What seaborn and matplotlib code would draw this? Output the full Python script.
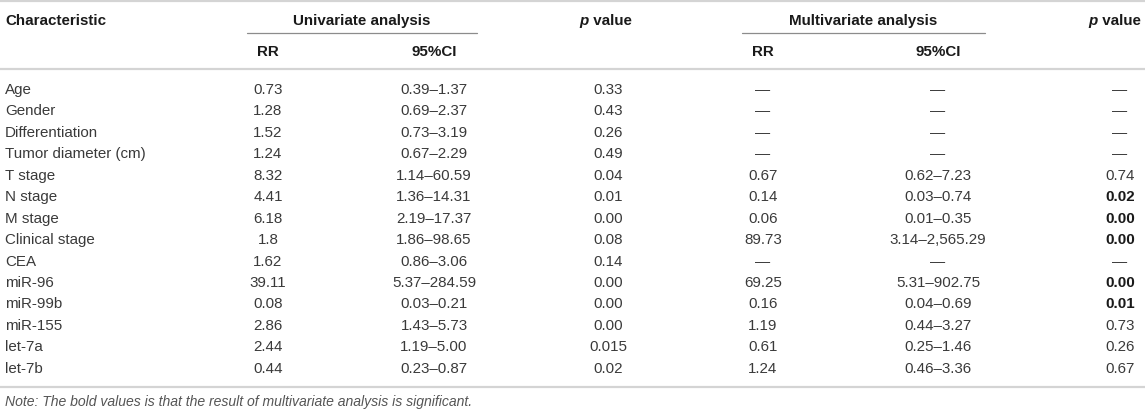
import matplotlib
matplotlib.use("Agg")
import matplotlib.pyplot as plt
import seaborn as sns
import pandas as pd

# table content
characteristics = ["Age", "Gender", "Differentiation", "Tumor diameter (cm)", "T stage",
                   "N stage", "M stage", "Clinical stage", "CEA", "miR-96", "miR-99b",
                   "miR-155", "let-7a", "let-7b"]
uni_rr = ["0.73", "1.28", "1.52", "1.24", "8.32", "4.41", "6.18", "1.8", "1.62",
          "39.11", "0.08", "2.86", "2.44", "0.44"]
uni_ci = ["0.39–1.37", "0.69–2.37", "0.73–3.19", "0.67–2.29", "1.14–60.59", "1.36–14.31",
          "2.19–17.37", "1.86–98.65", "0.86–3.06", "5.37–284.59", "0.03–0.21",
          "1.43–5.73", "1.19–5.00", "0.23–0.87"]
uni_p = ["0.33", "0.43", "0.26", "0.49", "0.04", "0.01", "0.00", "0.08", "0.14",
         "0.00", "0.00", "0.00", "0.015", "0.02"]
multi_rr = ["—", "—", "—", "—", "0.67", "0.14", "0.06", "89.73", "—", "69.25",
            "0.16", "1.19", "0.61", "1.24"]
multi_ci = ["—", "—", "—", "—", "0.62–7.23", "0.03–0.74", "0.01–0.35", "3.14–2,565.29",
            "—", "5.31–902.75", "0.04–0.69", "0.44–3.27", "0.25–1.46", "0.46–3.36"]
multi_p = ["—", "—", "—", "—", "0.74", "0.02", "0.00", "0.00", "—", "0.00",
           "0.01", "0.73", "0.26", "0.67"]
significant = ["N stage", "M stage", "Clinical stage", "miR-96", "miR-99b"]
note = "Note: The bold values is that the result of multivariate analysis is significant."

df = pd.DataFrame({"Characteristic": characteristics, "RR_u": uni_rr, "CI_u": uni_ci,
                   "p_u": uni_p, "RR_m": multi_rr, "CI_m": multi_ci, "p_m": multi_p})

sns.set_style("white")
plt.rcParams["font.family"] = ["Liberation Sans", "DejaVu Sans"]

W, H = 1145, 413
fig = plt.figure(figsize=(W / 100, H / 100), dpi=100)
ax = fig.add_axes([0, 0, 1, 1])
ax.set_xlim(0, W)
ax.set_ylim(H, 0)
ax.axis("off")

fs = 10.9
txt = "#3a3a3a"
head = "#1a1a1a"
col_x = {"RR_u": 268, "CI_u": 434, "p_u": 608, "RR_m": 763, "CI_m": 938, "p_m": 1120}

# rules
for y in (1, 69, 387):
    ax.plot([0, W], [y, y], color="#d4d4d4", lw=1.6, solid_capstyle="butt")
ax.plot([247, 477], [33, 33], color="#8c8c8c", lw=0.9)
ax.plot([742, 985], [33, 33], color="#8c8c8c", lw=0.9)

# header
ax.text(5, 21, "Characteristic", fontsize=fs, fontweight="bold", color=head, va="center")
ax.text(362, 21, "Univariate analysis", fontsize=fs, fontweight="bold", color=head,
        ha="center", va="center")
ax.text(863, 21, "Multivariate analysis", fontsize=fs, fontweight="bold", color=head,
        ha="center", va="center")
for x in (589, 1098):
    ax.text(x, 21, "p", fontsize=fs, fontweight="bold", fontstyle="italic", color=head,
            ha="right", va="center")
    ax.text(x, 21, " value", fontsize=fs, fontweight="bold", color=head, ha="left",
            va="center")
for key in ("RR_u", "RR_m"):
    ax.text(col_x[key], 52, "RR", fontsize=fs, fontweight="bold", color=head,
            ha="center", va="center")
for key in ("CI_u", "CI_m"):
    ax.text(col_x[key], 52, "95%CI", fontsize=fs, fontweight="bold", color=head,
            ha="center", va="center")

# body
y0, dy = 90, 21.45
for i, row in df.iterrows():
    y = y0 + i * dy
    ax.text(5, y, row["Characteristic"], fontsize=fs, color=txt, va="center")
    for key, x in col_x.items():
        bold = key == "p_m" and row["Characteristic"] in significant
        ax.text(x, y, row[key], fontsize=fs, color=head if bold else txt,
                fontweight="bold" if bold else "normal", ha="center", va="center")

ax.text(5, 402, note, fontsize=10.1, fontstyle="italic", color="#555555", va="center")

fig.savefig("out.png", dpi=100)
